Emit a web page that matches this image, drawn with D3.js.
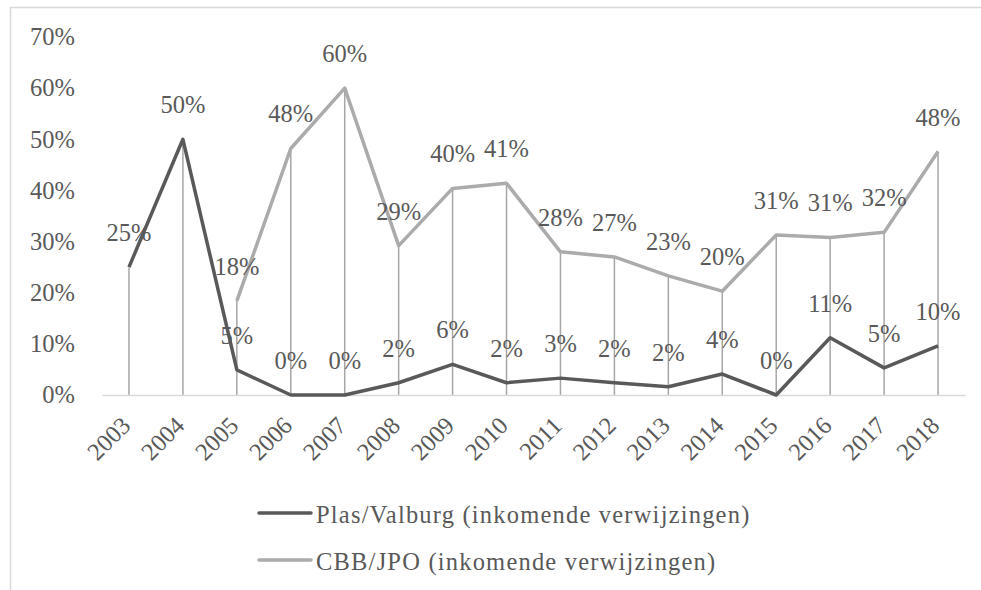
<!DOCTYPE html>
<html>
<head>
<meta charset="utf-8">
<script src="https://cdn.jsdelivr.net/npm/d3@7"></script>
</head>
<body style="margin:0;background:#fff">
<div id="wrapper"></div>
<script>
// data
const years = ["2003", "2004", "2005", "2006", "2007", "2008", "2009", "2010",
  "2011", "2012", "2013", "2014", "2015", "2016", "2017", "2018"];
const plasValues = [0.25, 0.50, 0.049, 0, 0, 0.024, 0.06, 0.024,
  0.033, 0.024, 0.016, 0.041, 0, 0.112, 0.053, 0.096];
const cbbValues = [null, null, 0.184, 0.482, 0.60, 0.292, 0.404, 0.414,
  0.28, 0.27, 0.233, 0.203, 0.313, 0.308, 0.318, 0.476];
const yTicks = [0, 0.1, 0.2, 0.3, 0.4, 0.5, 0.6, 0.7];
const seriesNames = ["Plas/Valburg (inkomende verwijzingen)", "CBB/JPO (inkomende verwijzingen)"];

const colors = ["#595959", "#ababab"];
const font = "Liberation Serif";
const fontSize = 24.5;

// every text gets its own font settings
const styleText = (sel) => sel
  .attr("font-family", font)
  .attr("font-size", fontSize)
  .attr("fill", "#595959");

function drawLineChart() {
  const dimensions = {
    width: 981,
    height: 590,
    margin: { top: 37, right: 16, bottom: 195, left: 102 },
  };
  dimensions.boundleWidth = dimensions.width - dimensions.margin.left - dimensions.margin.right;
  dimensions.boundleHeight = dimensions.height - dimensions.margin.top - dimensions.margin.bottom;

  const svg = d3.select("#wrapper").append("svg")
    .attr("width", dimensions.width)
    .attr("height", dimensions.height);

  // chart frame (cut off on the right/bottom like the original)
  svg.append("rect")
    .attr("x", 10.5).attr("y", 7.5)
    .attr("width", 1000).attr("height", 700)
    .attr("fill", "none").attr("stroke", "#d9d9d9").attr("stroke-width", 1.5);

  const bounds = svg.append("g")
    .attr("transform", `translate(${dimensions.margin.left},${dimensions.margin.top})`);

  const xScale = d3.scaleBand().domain(years).range([0, dimensions.boundleWidth]);
  const xPos = (d) => xScale(d) + xScale.bandwidth() / 2;
  const yScale = d3.scaleLinear().domain([0, 0.7]).range([dimensions.boundleHeight, 0]);

  // y axis labels
  const yAxis = bounds.append("g")
    .call(d3.axisLeft(yScale).tickValues(yTicks).tickFormat(d3.format(".0%")).tickSize(0).tickPadding(27));
  yAxis.select(".domain").remove();
  yAxis.selectAll("text").call(styleText);

  // drop lines
  bounds.append("g").selectAll("line")
    .data(years)
    .join("line")
    .attr("x1", (d) => xPos(d)).attr("x2", (d) => xPos(d))
    .attr("y1", yScale(0))
    .attr("y2", (d, i) => yScale(Math.max(plasValues[i], cbbValues[i] ?? 0)))
    .attr("stroke", "#a6a6a6").attr("stroke-width", 1.5);

  // x axis
  const xAxis = bounds.append("g")
    .attr("transform", `translate(0,${dimensions.boundleHeight})`)
    .call(d3.axisBottom(xScale).tickSize(0).tickPadding(0));
  xAxis.select(".domain").attr("stroke", "#d9d9d9").attr("stroke-width", 1.5);
  xAxis.selectAll("text")
    .call(styleText)
    .attr("text-anchor", "end")
    .attr("dy", null)
    .attr("y", 0)
    .attr("transform", "translate(3,32) rotate(-45)");

  const allSeries = [plasValues, cbbValues];

  const lineGenerator = d3.line()
    .defined((d) => d != null)
    .x((d, i) => xPos(years[i]))
    .y((d) => yScale(d));

  allSeries.forEach((vals, s) => {
    bounds.append("path")
      .attr("d", lineGenerator(vals))
      .attr("fill", "none")
      .attr("stroke", colors[s])
      .attr("stroke-width", 3.5)
      .attr("stroke-linejoin", "round");
  });

  // data labels
  allSeries.forEach((vals) => {
    bounds.append("g").selectAll("text")
      .data(vals.map((v, i) => ({ v, year: years[i] })).filter((d) => d.v != null))
      .join("text")
      .call(styleText)
      .attr("x", (d) => xPos(d.year))
      .attr("y", (d) => yScale(d.v) - 26)
      .attr("text-anchor", "middle")
      .text((d) => d3.format(".0%")(d.v));
  });

  // legend
  const legend = svg.append("g");
  seriesNames.forEach((name, s) => {
    const y = 513 + s * 47;
    legend.append("line")
      .attr("x1", 259).attr("x2", 311)
      .attr("y1", y).attr("y2", y)
      .attr("stroke", colors[s]).attr("stroke-width", 3.5)
      .attr("stroke-linecap", "round");
    legend.append("text")
      .call(styleText)
      .attr("letter-spacing", 1.2)
      .attr("x", 316).attr("y", y + 10)
      .text(name);
  });
}

drawLineChart();
</script>
</body>
</html>
